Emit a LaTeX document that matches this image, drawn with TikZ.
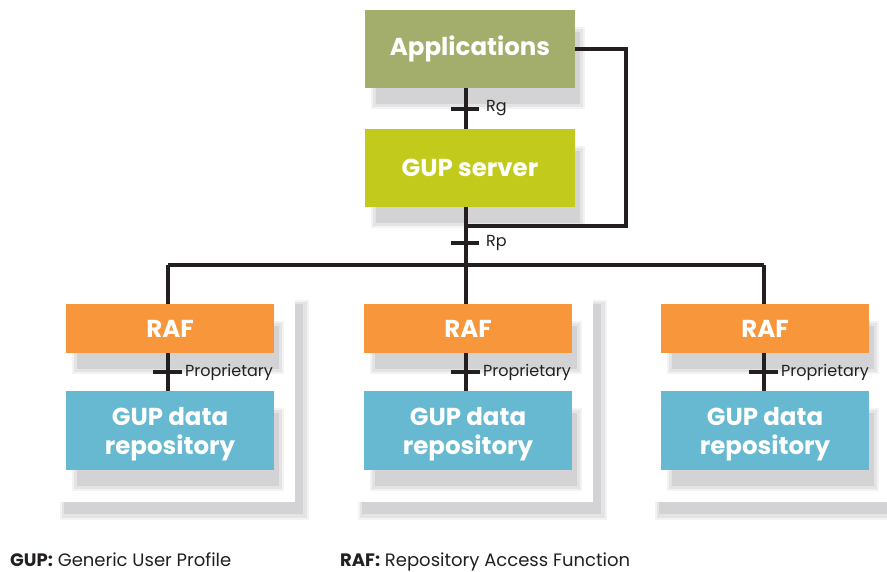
\documentclass[tikz,border=0pt]{standalone}
\usepackage{fontspec}
\setmainfont{Poppins}
\usetikzlibrary{calc}
\definecolor{appc}{HTML}{A4AE6C}
\definecolor{srvc}{HTML}{C2CB1B}
\definecolor{rafc}{HTML}{F7963B}
\definecolor{repc}{HTML}{66B9D0}
\definecolor{shA}{HTML}{F3F3F3}
\definecolor{shB}{HTML}{E4E4E5}
\definecolor{shC}{HTML}{D3D3D5}
\definecolor{linec}{HTML}{231F20}
\newcommand{\boxshadow}[4]{%
  \fill[shA] (#1+6,#2+17) rectangle (#3+10,#4+21);
  \fill[shB] (#1+8,#2+19) rectangle (#3+8,#4+19);
  \fill[shC] (#1+11,#2+22) rectangle (#3+5,#4+16);
}
\newcommand{\panelshadow}[4]{%
  \fill[shA] (#1+10,#2+10) rectangle (#3+14,#4+18);
  \fill[shB] (#1+12,#2+12) rectangle (#3+12,#4+16);
  \fill[shC] (#1+14,#2+14) rectangle (#3+8,#4+12);
  \fill[white] (#1,#2) rectangle (#3,#4);
}
\tikzset{
  box/.style={rectangle, inner sep=0pt, text=white, font=\fontsize{24.5}{29}\selectfont\bfseries, align=center},
  boxtext/.style={inner sep=0pt, text=white, font=\fontsize{24.5}{29}\selectfont\bfseries, align=center},
  wire/.style={draw=linec, line width=4pt},
  tickmark/.style={draw=linec, line width=4pt},
  lbl/.style={anchor=west, inner sep=0pt, text=linec, font=\fontsize{16}{18}\selectfont},
  legend/.style={anchor=base west, inner sep=0pt, text=linec, font=\fontsize{18}{20}\selectfont},
}
\begin{document}
\begin{tikzpicture}[x=1pt,y=-1pt]
\useasboundingbox (0,0) rectangle (887,571);
% panels
\panelshadow{50}{290}{295}{502}
\panelshadow{348}{290}{593}{502}
\panelshadow{645}{290}{890}{502}
% box shadows
\boxshadow{365}{10}{575}{88}
\boxshadow{365}{129}{575}{207}
\boxshadow{66}{304}{274}{353}
\boxshadow{364}{304}{572}{353}
\boxshadow{661}{304}{869}{353}
\boxshadow{66}{391}{274}{470}
\boxshadow{364}{391}{572}{470}
\boxshadow{661}{391}{869}{470}
% boxes
\node[box, fill=appc, minimum width=210pt, minimum height=78pt] (app) at (470,49) {Applications};
\node[box, fill=srvc, minimum width=210pt, minimum height=78pt] (srv) at (470,168) {GUP server};
\node[box, fill=rafc, minimum width=208pt, minimum height=49pt] (raf1) at (170,328.5) {RAF};
\node[box, fill=rafc, minimum width=208pt, minimum height=49pt] (raf2) at (468,328.5) {RAF};
\node[box, fill=rafc, minimum width=208pt, minimum height=49pt] (raf3) at (765,328.5) {RAF};
\node[box, fill=repc, minimum width=208pt, minimum height=79pt] (rep1) at (170,430.5) {};
\node[box, fill=repc, minimum width=208pt, minimum height=79pt] (rep2) at (468,430.5) {};
\node[box, fill=repc, minimum width=208pt, minimum height=79pt] (rep3) at (765,430.5) {};
\node[boxtext] (rep1t) at ($(rep1.center)+(0,4)$) {GUP data\\repository};
\node[boxtext] (rep2t) at ($(rep2.center)+(0,4)$) {GUP data\\repository};
\node[boxtext] (rep3t) at ($(rep3.center)+(0,4)$) {GUP data\\repository};
% coordinates
\coordinate (cx) at (466,0);
\coordinate (loopA) at (626,49);
\coordinate (loopB) at (626,226);
\coordinate (bus) at (466,265);
\coordinate (busL) at (168,265);
\coordinate (busR) at (764,265);
% connectors
\draw[wire] (app.south -| cx) -- (srv.north -| cx);
\draw[wire] (app.east) -- (loopA) -- (loopB) -- (loopB -| cx);
\draw[wire] (srv.south -| cx) -- (bus);
\draw[wire] (busL) -- (busR);
\draw[wire] (busL) -- (raf1.north -| busL);
\draw[wire] (bus) -- (raf2.north -| bus);
\draw[wire] (busR) -- (raf3.north -| busR);
\draw[wire] (raf1.south -| busL) -- (rep1.north -| busL);
\draw[wire] (raf2.south -| bus) -- (rep2.north -| bus);
\draw[wire] (raf3.south -| busR) -- (rep3.north -| busR);
% ticks
\draw[tickmark] (451,108.5) -- (479,108.5);
\node[lbl] (rg) at (486,108.5) {Rg};
\draw[tickmark] (451,243) -- (479,243);
\node[lbl] (rp) at (486,243) {Rp};
\draw[tickmark] (153,372) -- (182,372);
\node[lbl] (p1) at (185,372) {Proprietary};
\draw[tickmark] (451,372) -- (480,372);
\node[lbl] (p2) at (483,372) {Proprietary};
\draw[tickmark] (749,372) -- (778,372);
\node[lbl] (p3) at (781,372) {Proprietary};
% legend
\node[legend] (lg1) at (10,566) {\textbf{GUP:} Generic User Profile};
\node[legend] (lg2) at (340,566) {\textbf{RAF:} Repository Access Function};
\end{tikzpicture}
\end{document}
